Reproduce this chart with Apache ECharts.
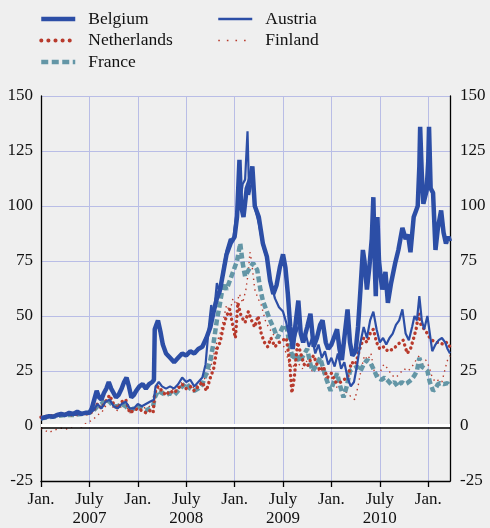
<!DOCTYPE html>
<html>
<head>
<meta charset="utf-8">
<script src="https://cdn.jsdelivr.net/npm/echarts@6/dist/echarts.min.js"></script>
<style>
  html, body { margin: 0; padding: 0; background: #efefef; }
  #chart { width: 490px; height: 528px; }
</style>
</head>
<body>
<div id="chart"></div>
<script>
// x = months since Jan. 2007
const belgium = [
  [0,3.5],[0.5,4],[1,4.5],[1.5,4.2],[2,5],[2.5,5.5],[3,5],[3.5,6],[4,5.5],[4.5,6.5],[5,5.5],[5.5,6],[6,6],
  [6.3,8],[6.6,12],[6.9,16],[7.2,13],[7.5,12],[7.8,15],[8.1,17],[8.4,20],[8.7,17],[9,15],[9.3,13],[9.6,14],
  [10,17],[10.3,20],[10.6,22],[10.9,18],[11.2,13],[11.5,14],[11.8,16],[12.2,18],[12.6,19],[13,17],[13.4,19],
  [13.8,20],[14,21],[14.1,44],[14.3,46],[14.5,48],[14.8,43],[15.1,37],[15.5,33],[16,31],[16.5,29],[17,31],
  [17.5,33],[18,32],[18.5,34],[19,33],[19.5,35],[20,36],[20.5,40],[21,45],[21.4,52],[21.8,58],[22.2,62],
  [22.6,70],[23,78],[23.5,83],[24,86],[24.3,95],[24.6,121],[24.8,100],[25.1,95],[25.5,108],[25.9,112],
  [26.2,118],[26.5,100],[27,95],[27.5,83],[28,77],[28.4,66],[28.8,60],[29.2,64],[29.6,72],[30,78],[30.3,72],
  [30.6,60],[30.9,45],[31.2,35],[31.6,48],[31.9,57],[32.2,42],[32.5,38],[33,45],[33.4,51],[33.8,36],[34.2,40],
  [34.6,46],[34.9,48],[35.3,38],[35.6,35],[36,37],[36.3,40],[36.7,44],[37,35],[37.3,30],[37.6,40],[38,53],
  [38.3,38],[38.6,32],[39,34],[39.3,45],[39.6,62],[39.9,80],[40.1,75],[40.4,62],[40.7,72],[41,85],[41.2,104],
  [41.4,70],[41.5,59],[41.7,95],[41.9,75],[42.1,68],[42.3,62],[42.7,70],[43,56],[43.4,65],[43.9,74],[44.3,80],
  [44.8,90],[45.2,85],[45.5,87],[45.8,79],[46.2,95],[46.5,98],[46.7,100],[46.9,118],[47,136],[47.2,115],
  [47.4,101],[47.8,107],[48,120],[48.1,136],[48.3,108],[48.6,106],[48.9,80],[49.2,90],[49.6,98],[49.9,88],
  [50.2,83],[50.5,86],[50.7,84]
];
const austria = [
  [0,3],[1,4],[2,4.5],[3,5],[4,5],[5,5.5],[6,6],[6.5,7],[7,10],[7.5,8],[8,11],[8.5,12],[9,9],[9.5,8],[10,10],
  [10.5,11],[11,8],[11.5,8],[12,10],[12.5,9],[13,10],[13.5,11],[14,12],[14.2,18],[14.6,20],[15,18],[15.5,17],
  [16,18],[16.5,17],[17,19],[17.5,22],[18,20],[18.5,21],[19,18],[19.5,20],[20,22],[20.4,28],[20.8,45],[21.1,55],
  [21.4,50],[21.8,65],[22.2,60],[22.6,72],[23,80],[23.4,85],[23.8,84],[24.2,96],[24.6,100],[25,110],[25.3,112],
  [25.6,134],[25.8,105],[26.2,112],[26.6,98],[27,92],[27.5,82],[28,76],[28.5,65],[29,58],[29.5,54],[30,52],
  [30.4,47],[30.8,40],[31.2,36],[31.6,42],[32,46],[32.4,38],[32.8,42],[33.2,36],[33.6,40],[34,33],[34.4,37],
  [34.8,31],[35.2,34],[35.6,28],[36,31],[36.4,27],[36.8,33],[37.2,26],[37.6,29],[38,22],[38.4,18],[38.8,20],
  [39.2,28],[39.6,38],[40,45],[40.4,40],[40.8,48],[41.2,52],[41.6,44],[42,38],[42.4,40],[42.8,37],[43.2,40],
  [43.6,42],[44,46],[44.4,48],[44.8,53],[45.2,42],[45.6,39],[46,45],[46.3,50],[46.6,48],[46.9,59],[47.2,48],
  [47.5,44],[47.9,50],[48.2,42],[48.5,34],[48.9,37],[49.3,39],[49.7,40],[50.1,38],[50.4,35],[50.7,33]
];
const france = [
  [0,3.5],[1,4],[2,4.5],[3,5],[4,5],[5,5.5],[6,6],[6.5,7],[7,9],[7.5,10],[8,12],[8.5,11],[9,9],[9.5,9],[10,10],
  [10.5,9],[11,7],[11.5,8],[12,9],[12.5,8],[13,7],[13.5,8],[13.9,9],[14.1,13],[14.5,16],[15,15],[15.5,14],
  [16,15],[16.5,14],[17,16],[17.5,18],[18,19.5],[18.5,17],[19,16],[19.5,17],[20,19],[20.5,24],[21,30],
  [21.4,38],[21.8,48],[22.2,56],[22.6,65],[23,62],[23.4,66],[23.8,70],[24.3,75],[24.7,83],[25,74],[25.3,68],
  [25.6,70],[25.9,72],[26.3,74],[26.8,71],[27.2,62],[27.5,57],[28,52],[28.4,48],[28.9,44],[29.3,40],[29.7,43],
  [30.1,46],[30.5,44],[30.9,35],[31.3,30],[31.7,33],[32.1,29],[32.5,32],[33,35],[33.4,28],[33.7,25],[34.2,28],
  [34.6,31],[35,26],[35.4,21],[35.9,16],[36.3,20],[36.7,24],[37.1,18],[37.5,13],[37.9,18],[38.3,25],[38.7,26],
  [39.2,27],[39.6,25],[40,28],[40.4,30],[40.8,29],[41.2,26],[41.7,22],[42.2,21],[42.6,22],[42.9,21],[43.4,19],
  [43.8,20],[44.2,18],[44.7,20],[45.1,19],[45.4,19.5],[45.9,21],[46.3,23],[46.6,25],[46.9,31],[47.2,27],
  [47.6,26],[47.9,25],[48.2,20],[48.6,16],[48.9,17],[49.2,19],[49.5,19.5],[49.9,19],[50.4,19.5],[50.7,18]
];
const netherlands = [
  [0,4],[1,4.5],[2,5],[3,5.5],[4,5],[5,5.5],[6,5.5],[6.5,7],[7,10],[7.5,8],[8,11],[8.5,14],[9,10],[9.5,8],
  [10,11],[10.5,12],[11,6],[11.5,7],[12,8],[12.5,7],[13,6],[13.5,7],[13.9,6],[14.1,15],[14.5,18],[15,16],
  [15.5,14],[16,16],[16.5,15],[17,17],[17.5,19],[18,17],[18.5,18],[19,16],[19.5,18],[20,20],[20.5,16],[21,22],
  [21.4,26],[21.8,35],[22.2,38],[22.6,45],[23,50],[23.4,53],[23.8,45],[24.1,40],[24.4,56],[24.8,50],[25.3,47],
  [25.7,52],[26.1,48],[26.5,45],[26.9,50],[27.3,42],[27.7,38],[28.1,36],[28.5,40],[29,36],[29.5,38],[30,39],
  [30.4,40],[30.8,30],[31.1,15],[31.4,22],[31.8,38],[32.2,33],[32.6,28],[33,27],[33.4,30],[33.8,32],[34.2,28],
  [34.6,25],[35,27],[35.5,22],[36,24],[36.5,20],[37,19.5],[37.5,21],[38,22],[38.5,29],[39,28],[39.5,35],
  [40,40],[40.4,38],[40.8,42],[41.2,44],[41.6,38],[42,35],[42.5,36],[43,34],[43.7,35],[44.2,37],[44.9,39],
  [45.4,33],[45.8,35],[46.2,40],[46.5,44],[46.8,51],[47.1,46],[47.5,44],[47.9,42],[48.2,40],[48.5,39],
  [48.9,38],[49.4,38],[49.9,37],[50.3,38],[50.7,36]
];
const finland = [
  [0,-1],[0.5,-2],[1,-3],[1.5,-2],[2,-1.5],[2.5,-1],[3,-1.5],[3.5,-1],[4,0],[4.5,0.5],[5,-0.5],[5.5,1],[6,2],
  [6.5,3],[7,5],[7.5,6],[8,9],[8.5,12],[9,8],[9.5,7],[10,9],[10.5,10],[11,6],[11.5,7],[12,8],[12.5,9],[13,8],
  [13.5,9],[14,10],[14.2,14],[14.6,17],[15,16],[15.5,15],[16,16],[16.5,17],[17,18],[17.5,20],[18,18],[18.5,19],
  [19,17],[19.5,19],[20,21],[20.5,22],[21,26],[21.4,32],[21.8,38],[22.2,42],[22.6,48],[23,55],[23.4,52],
  [23.8,58],[24.2,55],[24.6,60],[25,56],[25.4,62],[25.7,70],[25.9,79],[26.1,75],[26.5,62],[26.9,58],[27.3,55],
  [27.8,48],[28.2,45],[28.7,42],[29.2,40],[29.6,38],[30,37],[30.4,33],[30.8,28],[31.2,26],[31.6,31],[32,28],
  [32.4,26],[32.8,30],[33.2,28],[33.6,25],[34,27],[34.5,25],[35,24],[35.5,20],[36,22],[36.5,18],[37,17],
  [37.5,16],[38,15],[38.5,13],[38.9,12],[39.3,18],[39.7,26],[40.1,32],[40.5,30],[40.9,33],[41.3,25],[41.7,22],
  [42.1,25],[42.5,28],[43,26],[43.5,23],[44,22],[44.5,24],[45,26],[45.5,25],[46,27],[46.5,30],[46.9,32],
  [47.3,28],[47.7,30],[48.1,27],[48.5,22],[48.9,20],[49.3,21],[49.7,20],[50.1,26],[50.4,30],[50.7,32]
];
const yTicks = [-25, 0, 25, 50, 75, 100, 125, 150];
const startYear = 2007;

const FONT = 'Liberation Serif';
const BLUE = '#2c4ea6';
const RED = '#b83a2c';
const TEAL = '#6396a6';
const GRID = '#b9bde6';

function monthLabel(v) {
  const m = Math.round(v);
  if (m % 12 === 0) return 'Jan.';
  return 'July\n' + (startYear + Math.floor(m / 12));
}

function lineSeries(name, data, color, width, type, cap) {
  return {
    name,
    type: 'line',
    data,
    symbol: 'none',
    smooth: false,
    animation: false,
    lineStyle: { color, width, type, cap: cap || 'butt' },
    itemStyle: { color }
  };
}

const chart = echarts.init(document.getElementById('chart'), null, { renderer: 'canvas' });

const yAxisBase = {
  type: 'value',
  min: yTicks[0],
  max: yTicks[yTicks.length - 1],
  interval: 25,
  axisLine: { show: true, lineStyle: { color: '#000', width: 1.3 } },
  axisTick: { show: false },
  splitLine: { show: true, lineStyle: { color: GRID, width: 1 } },
  axisLabel: { color: '#111', fontFamily: FONT, fontSize: 17 }
};

const zeroLine = lineSeries('zero', [], '#000', 1);
zeroLine.markLine = {
  silent: true,
  symbol: 'none',
  label: { show: false },
  animation: false,
  data: [
    { yAxis: 0.5, lineStyle: { color: '#ffffff', width: 3, type: 'solid' } },
    { yAxis: -0.6, lineStyle: { color: '#000000', width: 1.5, type: 'solid' } }
  ]
};

const legendText = { color: '#111', fontFamily: FONT, fontSize: 17.5, lineHeight: 18, padding: [0, 0, 0, 8] };
const legendBase = {
  orient: 'vertical',
  top: 5,
  itemWidth: 34,
  itemHeight: 14,
  itemGap: 3.5,
  itemStyle: { opacity: 0 },
  textStyle: legendText
};

function legendItem(name, width, type, cap) {
  return { name, lineStyle: { width, type: type || 'solid', cap: cap || 'butt' } };
}

chart.setOption({
  backgroundColor: '#efefef',
  animation: false,
  grid: { left: 41, right: 40, top: 96, bottom: 47 },
  legend: [
    Object.assign({
      data: [
        legendItem('Belgium', 4.5),
        legendItem('Netherlands', 4, [0.1, 7], 'round'),
        legendItem('France', 4.5, [7, 3.5])
      ],
      left: 34
    }, legendBase),
    Object.assign({
      data: [
        legendItem('Austria', 2.5),
        legendItem('Finland', 1.6, [1.6, 7])
      ],
      left: 212
    }, legendBase)
  ],
  xAxis: {
    type: 'value',
    min: 0,
    max: 50.7,
    interval: 6,
    axisLine: { show: true, onZero: false, lineStyle: { color: '#000', width: 1.3 } },
    axisTick: { show: true, inside: false, length: 6, lineStyle: { color: '#000', width: 1.3 } },
    splitLine: { show: true, lineStyle: { color: GRID, width: 1 } },
    axisLabel: {
      showMaxLabel: false,
      margin: 9,
      color: '#111',
      fontFamily: FONT,
      fontSize: 17,
      lineHeight: 19,
      formatter: monthLabel
    }
  },
  yAxis: [
    Object.assign({}, yAxisBase, { position: 'left', axisLabel: Object.assign({}, yAxisBase.axisLabel, { margin: 8 }) }),
    Object.assign({}, yAxisBase, { position: 'right', splitLine: { show: false }, axisLabel: Object.assign({}, yAxisBase.axisLabel, { margin: 10 }) })
  ],
  series: [
    zeroLine,
    lineSeries('Finland', finland, RED, 1.4, [1.4, 4]),
    lineSeries('France', france, TEAL, 4.5, [6, 3]),
    lineSeries('Netherlands', netherlands, RED, 3.4, [0.1, 5], 'round'),
    lineSeries('Austria', austria, BLUE, 2.2),
    lineSeries('Belgium', belgium, BLUE, 4.5)
  ]
});
</script>
</body>
</html>
